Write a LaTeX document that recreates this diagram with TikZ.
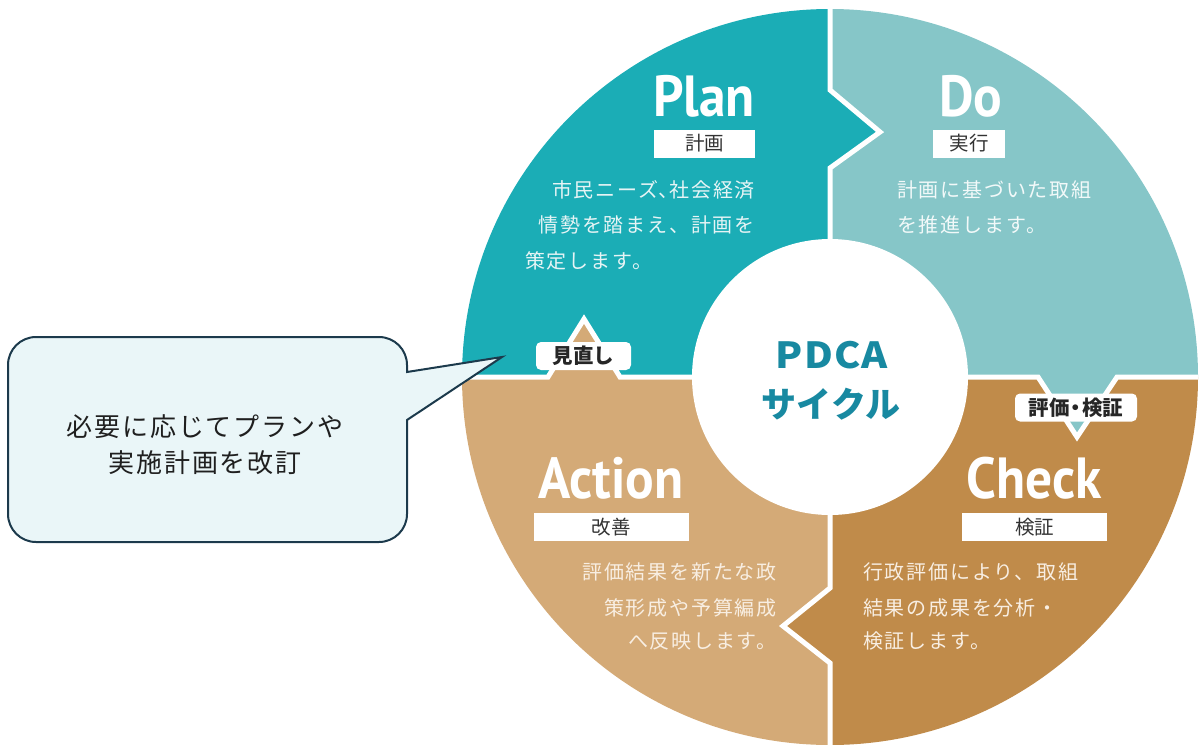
\documentclass[tikz,border=0pt]{standalone}
\usepackage{fontspec}
\setmainfont{Noto Sans CJK JP}
\newfontfamily\jpfont{Noto Sans CJK JP}
\newfontfamily\bodyfont[LetterSpace=9]{Noto Sans CJK JP}
\newfontfamily\callfont[LetterSpace=7]{Noto Sans CJK JP}
\newfontfamily\pdcafont[LetterSpace=3]{Noto Sans CJK JP}
\newfontfamily\ttlfont{PT Sans}
\definecolor{plancol}{HTML}{1BADB6}
\definecolor{docol}{HTML}{86C6C8}
\definecolor{chkcol}{HTML}{C08B4A}
\definecolor{actcol}{HTML}{D4AA77}
\definecolor{pdcacol}{HTML}{1889A1}
\definecolor{callfill}{HTML}{EAF6F8}
\definecolor{callline}{HTML}{1C3A4C}
\definecolor{tagtext}{HTML}{333333}
\definecolor{txtP}{HTML}{E6F4F5}
\definecolor{txtD}{HTML}{F2F9F9}
\definecolor{txtA}{HTML}{F8EEE2}
\begin{document}
\begin{tikzpicture}[x=1pt,y=-1pt,
  gap/.style={draw=white,line width=5pt,line join=miter},
  ttl/.style={text=white,font=\ttlfont\bfseries\fontsize{58}{58}\selectfont,inner sep=0pt,anchor=base},
  tag/.style={fill=white,text=tagtext,font=\jpfont\fontsize{19.5}{19.5}\selectfont,inner sep=0pt,minimum height=28pt},
  rtag/.style={fill=white,text=black!85,rounded corners=5pt,font=\jpfont\bfseries\fontsize{20.5}{20.5}\selectfont,inner sep=0pt,minimum height=28pt},
  body/.style={font=\bodyfont\fontsize{20}{20}\selectfont,inner sep=0pt},
  callout/.style={fill=callfill,draw=callline,line width=2pt,line join=miter}]
\useasboundingbox (0,0) rectangle (1204,744);
\coordinate (C) at (830,377);
\begin{scope}
  \clip (C) circle [radius=368];
  \fill[plancol] (830,377) -- (620,377) -- (584,319) -- (548,377) -- (450,377) -- (450,0) -- (830,0) -- (830,90) -- (880,132) -- (830,168) -- cycle;
  \fill[docol] (830,0) -- (1210,0) -- (1210,377) -- (1117,377) -- (1077,437) -- (1038,377) -- (830,377) -- (830,168) -- (880,132) -- (830,90) -- cycle;
  \fill[chkcol] (830,377) -- (1038,377) -- (1077,437) -- (1117,377) -- (1210,377) -- (1210,760) -- (830,760) -- (830,663) -- (783,626) -- (830,588) -- cycle;
  \fill[actcol] (830,377) -- (830,588) -- (783,626) -- (830,663) -- (830,760) -- (450,760) -- (450,377) -- (548,377) -- (584,319) -- (620,377) -- cycle;
  \draw[gap] (830,0) -- (830,90) -- (880,132) -- (830,168) -- (830,588) -- (783,626) -- (830,663) -- (830,760);
  \draw[gap] (450,377) -- (548,377) -- (584,319) -- (620,377) -- (1038,377) -- (1077,437) -- (1117,377) -- (1210,377);
\end{scope}
\fill[white] (C) circle [radius=138];
% titles
\node[ttl] (tplan) at (704,116) {\scalebox{0.92}[1]{Plan}};
\node[ttl] (tdo) at (971,116) {\scalebox{0.92}[1]{Do}};
\node[ttl] (tact) at (611,498) {\scalebox{0.92}[1]{Action}};
\node[ttl] (tchk) at (1034,498) {\scalebox{0.92}[1]{Check}};
% tags
\node[tag,minimum width=101pt] (gplan) at (704.5,143.5) {計画};
\node[tag,minimum width=72pt] (gdo) at (969,143.5) {実行};
\node[tag,minimum width=155pt] (gact) at (611,527) {改善};
\node[tag,minimum width=145pt] (gchk) at (1034.5,527) {検証};
\node[rtag,minimum width=95pt] (mina) at (583.5,356) {見直し};
\node[rtag,minimum width=122pt] (hyo) at (1076,407.5) {評価\makebox[0.6em]{・}検証};
% body texts
\node[body,text=txtP,anchor=east] (p1) at (755,190) {市民ニーズ\makebox[0.55em][l]{、}社会経済};
\node[body,text=txtP,anchor=east] (p2) at (755,225) {情勢を踏まえ、計画を};
\node[body,text=txtP,anchor=west] (p3) at (525,261) {策定します。};
\node[body,text=txtD,anchor=west] (d1) at (897,190) {計画に基づいた取組};
\node[body,text=txtD,anchor=west] (d2) at (897,225) {を推進します。};
\node[body,text=txtA,anchor=east] (a1) at (777,572) {評価結果を新たな政};
\node[body,text=txtA,anchor=east] (a2) at (777,608) {策形成や予算編成};
\node[body,text=txtA,anchor=east] (a3) at (777,641) {へ反映します。};
\node[body,text=txtA,anchor=west] (c1) at (863,572) {行政評価により、取組};
\node[body,text=txtA,anchor=west] (c2) at (863,608) {結果の成果を分析・};
\node[body,text=txtA,anchor=west] (c3) at (863,641) {検証します。};
% center
\node[text=pdcacol,font=\pdcafont\bfseries\fontsize{36}{36}\selectfont,inner sep=0pt] (pdca) at (832,355) {\scalebox{1.1}[1]{PDCA}};
\node[text=pdcacol,font=\jpfont\bfseries\fontsize{35}{35}\selectfont,inner sep=0pt] (cyc) at (831,404) {サイクル};
% callout
\draw[callout] (407,372) -- (502,357) -- (407,420) -- (407,514)
  arc[start angle=0,end angle=90,radius=28] -- (36,542)
  arc[start angle=90,end angle=180,radius=28] -- (8,365)
  arc[start angle=180,end angle=270,radius=28] -- (379,337)
  arc[start angle=270,end angle=360,radius=28] -- cycle;
\node[font=\callfont\fontsize{26}{36}\selectfont,text=black!88,align=center,inner sep=0pt] (note) at (205,445) {必要に応じてプランや\\実施計画を改訂};
\end{tikzpicture}
\end{document}
